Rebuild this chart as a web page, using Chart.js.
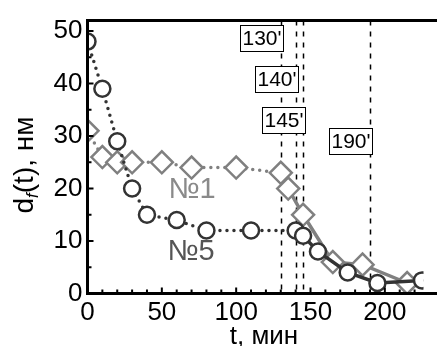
<!DOCTYPE html>
<html>
<head>
<meta charset="utf-8">
<script src="https://cdn.jsdelivr.net/npm/chart.js@4"></script>
<style>
  body { margin: 0; background: #fff; }
  canvas { display: block; }
</style>
</head>
<body>
<canvas id="chart" width="437" height="346"></canvas>
<script>
// sample №5 (circles)
const t5 = [0, 10, 20, 30, 40, 60, 80, 110, 140, 145, 155, 175, 195, 225];
const d5 = [48, 39, 29, 20, 15, 14, 12, 12, 12, 11, 8, 4, 2, 2.5];
// sample №1 (diamonds)
const t1 = [0, 10, 20, 30, 50, 70, 100, 130, 135, 145, 165, 185, 215];
const d1 = [31, 26, 25, 25, 25, 24, 24, 23, 20, 15, 6, 5.5, 2];

const xTicks = [0, 50, 100, 150, 200];
const yTicks = [0, 10, 20, 30, 40, 50];

// vertical marks
const markTimes = [130, 140, 145, 190];
const markLabels = ["130'", "140'", "145'", "190'"];

// where the dotted part ends
const solidFrom5 = 140;
const solidFrom1 = 130;

const FONT = "'Liberation Sans', Arial, sans-serif";

const toPoints = (xs, ys) => xs.map((x, i) => ({ x: x, y: ys[i] }));

const decor = {
  id: 'decor',
  beforeDatasetsDraw(chart) {
    const { ctx, chartArea: a, scales: { x } } = chart;
    ctx.save();
    // dashed lines
    ctx.strokeStyle = '#000';
    ctx.lineWidth = 1.5;
    ctx.setLineDash([5, 6]);
    markTimes.forEach(t => {
      const px = Math.round(x.getPixelForValue(t)) + 0.5;
      ctx.beginPath();
      ctx.moveTo(px, a.top);
      ctx.lineTo(px, a.bottom);
      ctx.stroke();
    });
    ctx.setLineDash([]);
    // boxes
    const boxTops = [25, 66, 107, 128];
    ctx.font = '21px ' + FONT;
    ctx.textAlign = 'center';
    ctx.textBaseline = 'middle';
    markTimes.forEach((t, i) => {
      const right = x.getPixelForValue(t) + 2;
      const w = 43, h = 26;
      const left = Math.round(right - w) + 0.5;
      const top = boxTops[i] + 0.5;
      ctx.fillStyle = '#fff';
      ctx.fillRect(left, top, w, h);
      ctx.strokeStyle = '#000';
      ctx.lineWidth = 1;
      ctx.strokeRect(left, top, w, h);
      ctx.fillStyle = '#000';
      ctx.fillText(markLabels[i], left + w / 2, top + h / 2 + 1);
    });
    ctx.restore();
  },
  afterDatasetsDraw(chart) {
    const { ctx, chartArea: a, scales: { x, y } } = chart;
    ctx.save();
    ctx.strokeStyle = '#000';
    ctx.lineWidth = 3;
    ctx.beginPath();
    ctx.moveTo(a.left, a.top);
    ctx.lineTo(chart.width, a.top);
    ctx.moveTo(a.left, a.top - 1.5);
    ctx.lineTo(a.left, a.bottom);
    ctx.moveTo(a.left - 1.5, a.bottom);
    ctx.lineTo(chart.width, a.bottom);
    ctx.stroke();
    // inward ticks
    ctx.lineWidth = 2;
    ctx.beginPath();
    for (let v = 0; v <= 220; v += 10) {
      const px = x.getPixelForValue(v);
      const len = v % 50 === 0 ? 6 : 4;
      ctx.moveTo(px, a.bottom);
      ctx.lineTo(px, a.bottom - len);
    }
    for (let v = 0; v <= 50; v += 5) {
      const py = y.getPixelForValue(v);
      const len = v % 10 === 0 ? 6 : 4;
      ctx.moveTo(a.left, py);
      ctx.lineTo(a.left + len, py);
    }
    ctx.stroke();

    // series names
    ctx.textAlign = 'center';
    ctx.textBaseline = 'alphabetic';
    ctx.font = '29px ' + FONT;
    ctx.fillStyle = '#8a8a8a';
    ctx.fillText('№1', 192, 198);
    ctx.fillStyle = '#555';
    ctx.fillText('№5', 191, 260);

    // x title
    ctx.fillStyle = '#000';
    ctx.font = '26px ' + FONT;
    ctx.fillText('t, мин', 264, 344);

    // y title: d_f(t), нм
    ctx.translate(33, 165);
    ctx.rotate(-Math.PI / 2);
    ctx.textAlign = 'left';
    const big = '28px ' + FONT, small = 'italic 17px ' + FONT;
    ctx.font = big;
    const wd = ctx.measureText('d').width;
    const wr = ctx.measureText('(t), нм').width;
    ctx.font = small;
    const wf = ctx.measureText('f').width;
    let cx = -(wd + wf + wr) / 2;
    ctx.font = big;
    ctx.fillText('d', cx, 0);
    cx += wd;
    ctx.font = small;
    ctx.fillText('f', cx, 5);
    cx += wf;
    ctx.font = big;
    ctx.fillText('(t), нм', cx, 0);
    ctx.restore();
  }
};

const ctx = document.getElementById('chart').getContext('2d');

new Chart(ctx, {
  type: 'scatter',
  data: {
    datasets: [{
      label: '№5',
      data: toPoints(t5, d5),
      showLine: true,
      borderColor: '#333',
      borderWidth: 3.5,
      borderCapStyle: 'round',
      pointStyle: 'circle',
      pointRadius: 8,
      pointBorderWidth: 2.5,
      pointBorderColor: '#333',
      pointBackgroundColor: '#fff',
      segment: {
        borderDash: c => c.p0.parsed.x < solidFrom5 ? [0, 7] : undefined
      }
    }, {
      label: '№1',
      data: toPoints(t1, d1),
      showLine: true,
      borderColor: '#808080',
      borderWidth: 3.5,
      borderCapStyle: 'round',
      pointStyle: 'rectRot',
      pointRadius: 11,
      pointBorderWidth: 2.5,
      pointBorderColor: '#808080',
      pointBackgroundColor: '#fff',
      segment: {
        borderDash: c => c.p0.parsed.x < solidFrom1 ? [0, 7] : undefined
      }
    }]
  },
  options: {
    responsive: false,
    animation: false,
    layout: { padding: { top: 13.5, right: 0, left: 0, bottom: 0 } },
    plugins: { legend: { display: false }, tooltip: { enabled: false } },
    scales: {
      x: {
        type: 'linear',
        min: 0,
        max: 226,
        afterBuildTicks: s => { s.ticks = xTicks.map(v => ({ value: v })); },
        afterFit: s => { s.height = 52.5; },
        grid: { display: false, drawTicks: false },
        border: { display: false },
        ticks: { color: '#000', font: { size: 26, family: FONT }, padding: 4, maxRotation: 0, autoSkip: false }
      },
      y: {
        min: 0,
        max: 52,
        afterBuildTicks: s => { s.ticks = yTicks.map(v => ({ value: v })); },
        afterFit: s => { s.width = 87.5; },
        grid: { display: false, drawTicks: false },
        border: { display: false },
        ticks: { color: '#000', font: { size: 26, family: FONT }, padding: 5 }
      }
    }
  },
  plugins: [decor]
});
</script>
</body>
</html>
